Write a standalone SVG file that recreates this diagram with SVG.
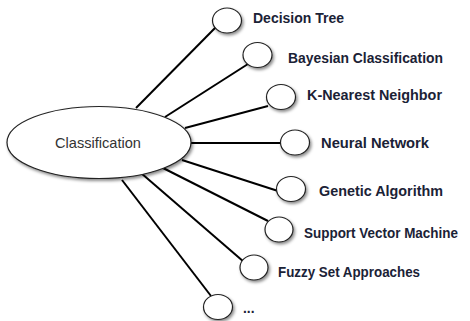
<svg xmlns="http://www.w3.org/2000/svg" width="470" height="321" viewBox="0 0 470 321">
<defs>
<filter id="sh" x="-30%" y="-30%" width="170%" height="170%">
<feDropShadow dx="1.5" dy="2" stdDeviation="1.4" flood-color="#000" flood-opacity="0.45"/>
</filter>
<style>
.node{fill:#fff;stroke:#222;stroke-width:1.2;filter:url(#sh)}
.lbl{font-family:"Liberation Sans",Arial,sans-serif;font-weight:bold;font-size:13.8px;fill:#1b2236}
.main{font-family:"Liberation Sans",Arial,sans-serif;font-size:14.6px;fill:#333}
.conn line{stroke:#000;stroke-width:2}
</style>
</defs>
<rect width="470" height="321" fill="#fff"/>
<g id="connectors" class="conn">
<line x1="136" y1="108" x2="216" y2="27"/>
<line x1="165" y1="117" x2="248" y2="64"/>
<line x1="185" y1="128" x2="268" y2="106"/>
<line x1="190" y1="143" x2="282" y2="143"/>
<line x1="182" y1="160" x2="278" y2="191"/>
<line x1="163" y1="168" x2="268" y2="221"/>
<line x1="141" y1="173" x2="244" y2="262"/>
<line x1="122" y1="180" x2="211" y2="296"/>
</g>
<g id="classification">
<ellipse class="node" cx="99" cy="142.5" rx="92" ry="36"/>
<text class="main" x="98" y="148" text-anchor="middle">Classification</text>
</g>
<g id="decision-tree">
<ellipse class="node" cx="227" cy="20.5" rx="14.5" ry="12.5"/>
<text class="lbl" x="253" y="23" textLength="91" lengthAdjust="spacingAndGlyphs">Decision Tree</text>
</g>
<g id="bayesian">
<ellipse class="node" cx="257.5" cy="55" rx="14.5" ry="12.5"/>
<text class="lbl" x="288" y="63" textLength="155" lengthAdjust="spacingAndGlyphs">Bayesian Classification</text>
</g>
<g id="knn">
<ellipse class="node" cx="281" cy="97" rx="14.5" ry="12.5"/>
<text class="lbl" x="307" y="100" textLength="135" lengthAdjust="spacingAndGlyphs">K-Nearest Neighbor</text>
</g>
<g id="neural">
<ellipse class="node" cx="295" cy="142.5" rx="14.5" ry="12.5"/>
<text class="lbl" x="321" y="148" textLength="108" lengthAdjust="spacingAndGlyphs">Neural Network</text>
</g>
<g id="genetic">
<ellipse class="node" cx="291" cy="189" rx="14.5" ry="12.5"/>
<text class="lbl" x="319" y="196" textLength="124" lengthAdjust="spacingAndGlyphs">Genetic Algorithm</text>
</g>
<g id="svm">
<ellipse class="node" cx="279" cy="229.5" rx="14" ry="12.5"/>
<text class="lbl" x="304" y="238" textLength="154" lengthAdjust="spacingAndGlyphs">Support Vector Machine</text>
</g>
<g id="fuzzy">
<ellipse class="node" cx="254" cy="267.5" rx="14" ry="12.5"/>
<text class="lbl" x="278" y="277" textLength="142" lengthAdjust="spacingAndGlyphs">Fuzzy Set Approaches</text>
</g>
<g id="more">
<ellipse class="node" cx="218" cy="307" rx="14.5" ry="12.5"/>
<text class="lbl" x="243" y="313">...</text>
</g>
</svg>
